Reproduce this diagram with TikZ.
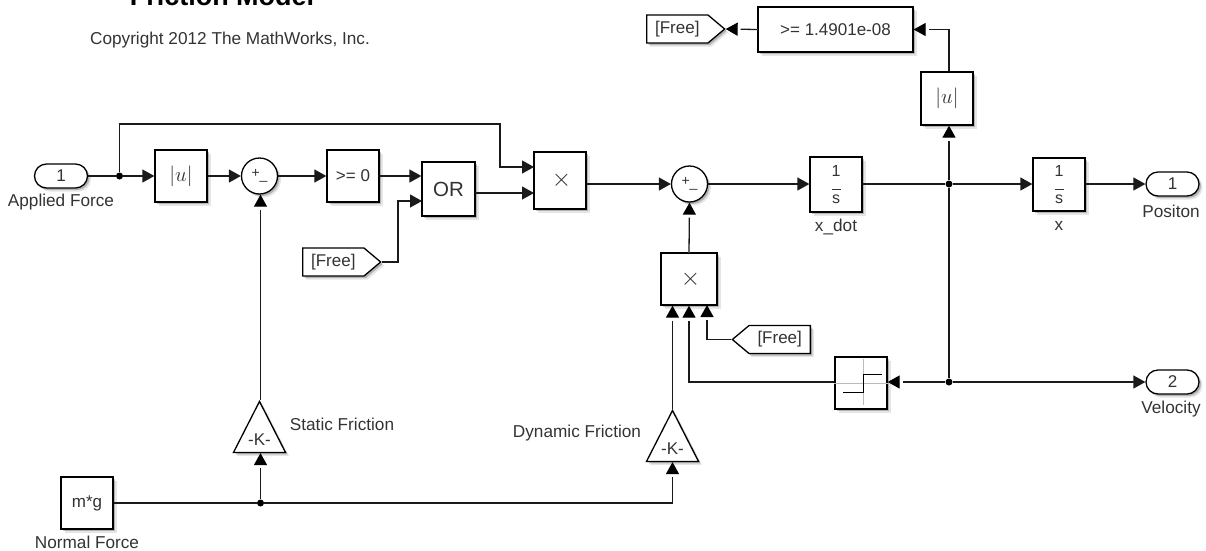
\documentclass[tikz,border=0pt]{standalone}
\usepackage{fontspec}
\setmainfont{Liberation Sans}
\usepackage{xcolor}
\usepackage{tikz}
\usetikzlibrary{arrows.meta,calc,shapes.geometric,shapes.symbols,shapes.misc,shadows}
\definecolor{wireblack}{HTML}{1A1A1A}
\definecolor{labelgray}{HTML}{333333}
\definecolor{axisgray}{HTML}{BBBBBB}

\begin{document}
\begin{tikzpicture}[x=1pt,y=-1pt,
  text=labelgray,
  softshadow/.style={drop shadow={shadow xshift=3.5pt,shadow yshift=-3.5pt,opacity=0.10,fill=black},drop shadow={shadow xshift=2pt,shadow yshift=-2pt,opacity=0.22,fill=black}},
  blockbox/.style={draw=black,fill=white,line width=1.3pt,softshadow,inner sep=0pt,font=\fontsize{17}{19}\selectfont},
  mathbox/.style={blockbox,font=\fontsize{21}{22}\selectfont},
  multbox/.style={blockbox,font=\fontsize{27}{28}\selectfont},
  intbox/.style={blockbox,minimum width=52pt,align=center,font=\fontsize{16}{16}\selectfont},
  portbox/.style={blockbox,rounded rectangle,minimum width=53pt,minimum height=24pt},
  sumnode/.style={blockbox,circle,minimum size=36pt,font=\fontsize{14}{14}\selectfont},
  gainnode/.style={blockbox,isosceles triangle,isosceles triangle apex angle=54,shape border rotate=90,isosceles triangle stretches,minimum width=52pt,minimum height=51pt,anchor=apex},
  gotoright/.style={blockbox,signal,signal to=east,signal from=nowhere,signal pointer angle=80,minimum width=78pt,minimum height=28pt,anchor=west},
  gotoleft/.style={blockbox,signal,signal to=west,signal from=nowhere,signal pointer angle=80,minimum width=78pt,minimum height=28pt,anchor=east},
  blocklabel/.style={font=\fontsize{17.2}{19}\selectfont,inner sep=0pt},
  jointdot/.style={circle,fill=black,inner sep=0pt,minimum size=7pt},
  wire/.style={draw=wireblack,line width=1.3pt},
  connector/.style={wire,-{Triangle[length=12pt,width=13pt]}},
  gapconnector/.style={draw=white,line width=1.3pt,-{Triangle[length=12pt,width=13pt,black]},postaction={draw=wireblack,-,shorten >=15pt}}
]
\path[use as bounding box] (0,0) rectangle (1206,550);

% Title and note
\node[anchor=base,font=\fontsize{27}{30}\selectfont\bfseries,text=black,inner sep=0pt] (title) at (222,5) {Friction Model};
\node[blocklabel] (note) at (230,40) {Copyright 2012 The MathWorks, Inc.};

% Upper path, left to right
\node[portbox] (forcein) at (61,176) {1};
\node[jointdot] (forcejoint) at (119.5,176) {};
\node[mathbox,minimum size=52pt] (absforce) at (181,176) {$|u|$};
\node[sumnode] (sumstatic) at (259.5,176) {+\raisebox{-2pt}{\_}};
\node[blockbox,minimum size=52pt] (cmpzero) at (353,176) {>= 0};
\node[blockbox,minimum width=53pt,minimum height=54pt,font=\fontsize{20.5}{22}\selectfont] (orgate) at (448.5,189) {OR};
\node[gotoright] (freeor) at (302,262) {[Free]};
\node[multbox,minimum width=52pt,minimum height=57pt] (multforce) at (560,180.5) {\hspace*{3pt}$\times$};
\node[sumnode] (sumdyn) at (689.5,184) {+\raisebox{-2pt}{\_}};
\node[intbox,minimum height=55pt] (xdot) at (836,184.5) {1\\[-3pt]\rule{9pt}{0.7pt}\\[-2pt]s};
\node[jointdot] (speedjoint) at (949,184) {};
\node[intbox,minimum height=53pt] (xpos) at (1059,184.5) {1\\[-3pt]\rule{9pt}{0.7pt}\\[-2pt]s};
\node[portbox] (posout) at (1172.5,184) {1};

% Stick detection on top
\node[mathbox,minimum width=52pt,minimum height=53pt] (absspeed) at (947,98.5) {$|u|$};
\node[blockbox,minimum width=155pt,minimum height=45pt] (cmpeps) at (835.5,29.5) {>= 1.4901e-08};
\node[gotoright] (freeout) at (646,29) {[Free]};

% Lower path
\node[multbox,minimum width=56pt,minimum height=52pt] (multdyn) at (689,279) {\hspace*{3pt}$\times$};
\node[gotoleft] (freedyn) at (811,339.5) {[Free]};
\node[blockbox,minimum size=52pt] (signblock) at (861,383) {};
\node[jointdot] (signjoint) at (949,382) {};
\node[portbox] (velout) at (1172.5,382) {2};
\node[gainnode] (gainstatic) at (259.5,400) {\raisebox{-2pt}[0pt][0pt]{-K-}};
\node[gainnode] (gaindyn) at (672.5,409) {\raisebox{-2pt}[0pt][0pt]{-K-}};
\node[blockbox,minimum size=52pt] (massgrav) at (87,503) {m*g};
\node[jointdot] (massjoint) at (260.5,503) {};

% Signature inside the sign block
\draw[axisgray,line width=0.8pt] (signblock.west) -- (signblock.east);
\draw[axisgray,line width=0.8pt] (signblock.north) ++(2,3) -- ++(0,46);
\draw[black,line width=1pt] ($(signblock)+(-18,9)$) -- ($(signblock)+(2,9)$) -- ($(signblock)+(2,-9)$) -- ($(signblock)+(21,-9)$);

% Block names
\node[blocklabel] (appliedlabel) at (61,202) {Applied Force};
\node[blocklabel] (xdotlabel) at (836,227) {x\_dot};
\node[blocklabel] (xlabel) at (1059,226) {x};
\node[blocklabel] (poslabel) at (1171,211) {Positon};
\node[blocklabel] (vellabel) at (1171,409) {Velocity};
\node[blocklabel] (staticlabel) at (342,424) {Static Friction};
\node[blocklabel] (dynlabel) at (577,433) {Dynamic Friction};
\node[blocklabel] (masslabel) at (87,542) {Normal Force};

% Ports that sit off the block centres
\coordinate (multforcetop) at (534,167);
\coordinate (multforcelow) at (534,193);
\coordinate (orlow) at (422,201);
\coordinate (orout) at (475,193);
\coordinate (cmpbend) at (398,262);

% Upper flow
\draw[wire] (forcein.east) -- (forcejoint);
\draw[connector] (forcejoint) -- (absforce.west);
\draw[connector] (absforce.east) -- (sumstatic.west);
\draw[connector] (sumstatic.east) -- (cmpzero.west);
\draw[connector] (cmpzero.east) -- (orgate.west |- cmpzero.east);
\draw[connector] (freeor.east) -- (cmpbend) |- (orlow);
\draw[connector] (orout) -- (multforcelow);
\draw[connector] (forcejoint) |- (500,124) |- (multforcetop);
\draw[connector] (multforce.east |- sumdyn.west) -- (sumdyn.west);
\draw[connector] (sumdyn.east) -- (xdot.west |- sumdyn.east);
\draw[wire] (xdot.east |- speedjoint) -- (speedjoint);
\draw[connector] (speedjoint) -- (xpos.west |- speedjoint);
\draw[connector] (xpos.east |- posout.west) -- (posout.west);

% Stick detection flow
\draw[gapconnector] (speedjoint) -- (speedjoint |- absspeed.south);
\draw[gapconnector] (speedjoint |- absspeed.north) |- (cmpeps.east);
\draw[gapconnector] (cmpeps.west) -- (freeout.east);

% Friction flow
\draw[gapconnector] (massjoint) -- (massjoint |- gainstatic.south);
\draw[gapconnector] (massjoint |- gainstatic.apex) -- (sumstatic.south -| massjoint);
\draw[wire] (massgrav.east) -- (massjoint);
\draw[gapconnector] (massjoint) -| (gaindyn.south);
\draw[gapconnector] (gaindyn.apex) -- (gaindyn.apex |- multdyn.south);
\draw[gapconnector] (signblock.west |- signjoint) -| (multdyn.south);
\draw[gapconnector] (freedyn.west) -| (707,305);
\draw[wire] (speedjoint) -- (signjoint);
\draw[gapconnector] (signjoint) -- (signblock.east |- signjoint);
\draw[connector] (signjoint) -- (velout.west);
\draw[gapconnector] (multdyn.north) -- (sumdyn.south);
\end{tikzpicture}
\end{document}
